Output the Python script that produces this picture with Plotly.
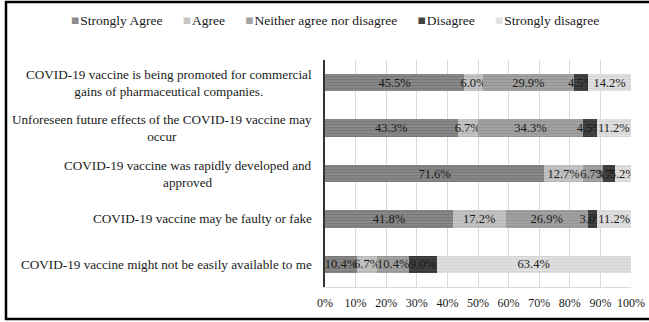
import plotly.graph_objects as go

# Survey statements (top to bottom as displayed)
statements = [
    "COVID-19 vaccine is being promoted for commercial<br>gains of pharmaceutical companies.",
    "Unforeseen future effects of the COVID-19 vaccine may<br>occur",
    "COVID-19 vaccine was rapidly developed and<br>approved",
    "COVID-19 vaccine may be faulty or fake",
    "COVID-19 vaccine might not be easily available to me",
]

responses = ["Strongly Agree", "Agree", "Neither agree nor disagree",
             "Disagree", "Strongly disagree"]

strongly_agree = [45.5, 43.3, 71.6, 41.8, 10.4]
agree = [6.0, 6.7, 12.7, 17.2, 6.7]
neither = [29.9, 34.3, 6.7, 26.9, 10.4]
disagree = [4.5, 4.5, 3.7, 3.0, 9.0]
strongly_disagree = [14.2, 11.2, 5.2, 11.2, 63.4]

series = [strongly_agree, agree, neither, disagree, strongly_disagree]
fill_colors = ["#8a8a8a", "#c6c6c6", "#a4a4a4", "#444444", "#e2e2e2"]
stripe_colors = ["#787878", "#b6b6b6", "#949494", "#363636", "#d4d4d4"]

FONT = "Liberation Serif, Times New Roman, serif"

fig = go.Figure()
for name, vals, col, stripe in zip(responses, series, fill_colors, stripe_colors):
    fig.add_trace(go.Bar(
        y=statements,
        x=vals,
        name=name,
        orientation="h",
        showlegend=False,
        marker=dict(
            color=col,
            line=dict(width=0),
            pattern=dict(shape="-", size=3, solidity=0.45,
                         fgcolor=stripe, bgcolor=col, fillmode="replace"),
        ),
        text=[f"{v:.1f}%" for v in vals],
        textposition="inside",
        insidetextanchor="middle",
        textangle=0,
        constraintext="none",
        textfont=dict(family=FONT, size=12.5, color="#1a1a1a"),
        hoverinfo="skip",
    ))

# Category labels as centred, right-anchored text blocks
for s in statements:
    fig.add_annotation(
        x=0, y=s, xref="paper", yref="y",
        text=s, showarrow=False, xanchor="right", yanchor="middle",
        align="center", xshift=-11,
        font=dict(family=FONT, size=13.2, color="#1a1a1a"),
    )

# Compact one-line key: coloured square glyph followed by the response name
key_items = [
    f"<span style='color:{col}'>\u25a0</span>\u200a{name}"
    for name, col in zip(responses, fill_colors)
]
fig.add_annotation(
    x=0.0327, y=1.176, xref="paper", yref="paper",
    text="\u2003\u2002".join(key_items),
    showarrow=False, xanchor="center", yanchor="middle",
    font=dict(family=FONT, size=13.5, color="#1a1a1a"),
)

# Outer frame
fig.add_shape(type="rect", xref="paper", yref="paper",
              x0=-1.0425, x1=1.07, y0=-0.141, y1=1.2555,
              line=dict(color="black", width=2.5), fillcolor="rgba(0,0,0,0)")

fig.update_layout(
    width=649, height=322,
    barmode="stack",
    bargap=0.615,
    plot_bgcolor="white",
    paper_bgcolor="white",
    showlegend=False,
    margin=dict(l=325, r=18, t=60, b=35, autoexpand=False),
    uniformtext=dict(mode="show", minsize=12.5),
    font=dict(family=FONT, size=12, color="#1a1a1a"),
    xaxis=dict(
        range=[0, 100],
        dtick=10,
        ticksuffix="%",
        showgrid=True,
        gridcolor="#d9d9d9",
        gridwidth=1,
        zeroline=False,
        showline=True,
        linecolor="#d9d9d9",
        tickfont=dict(family=FONT, size=12, color="#1a1a1a"),
        ticks="",
        ticklabelstandoff=5,
        fixedrange=True,
    ),
    yaxis=dict(
        autorange="reversed",
        showticklabels=False,
        showline=True,
        linecolor="#333333",
        linewidth=1.5,
        showgrid=False,
        ticks="",
        fixedrange=True,
    ),
)

fig.write_html("out.html")
